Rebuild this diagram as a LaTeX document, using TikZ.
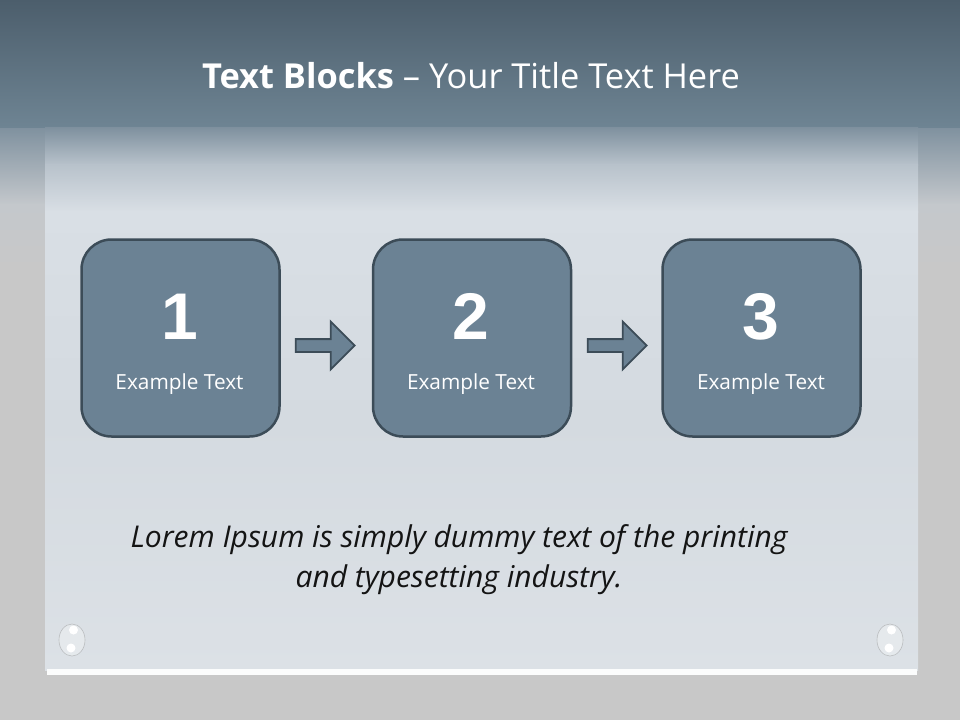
\documentclass[tikz,border=0pt]{standalone}
\usepackage{fontspec}
\setmainfont{Open Sans}
\newfontfamily\numfont{Liberation Sans}
\usetikzlibrary{shapes.arrows}
\definecolor{bggray}{HTML}{C8C8C8}
\definecolor{bandtop}{HTML}{4C5E6C}
\definecolor{bandbot}{HTML}{6E8493}
\definecolor{boxfill}{HTML}{6B8294}
\definecolor{boxline}{HTML}{3C4C58}
\definecolor{lorem}{HTML}{141414}
\definecolor{s0}{HTML}{7E909E}
\definecolor{s1}{HTML}{C4C8CC}
\definecolor{p0}{HTML}{7E909E}
\definecolor{p1}{HTML}{B8C2CB}
\definecolor{p2}{HTML}{D9DFE5}
\definecolor{p3}{HTML}{D4DAE0}
\definecolor{p4}{HTML}{DCE1E6}
\tikzset{
  stepbox/.style={draw=boxline, fill=boxfill, line width=2.5pt, rounded corners=30pt,
    minimum width=198pt, minimum height=197pt, inner sep=0pt},
  numtext/.style={text=white, font=\numfont\bfseries\fontsize{66}{70}\selectfont, anchor=base, inner sep=0pt},
  labtext/.style={text=white, font=\fontsize{20.8}{25}\selectfont, anchor=base, inner sep=0pt},
  flowarrow/.style={single arrow, draw=boxline, fill=boxfill, line width=1.8pt,
    minimum height=59pt, inner xsep=0pt, inner ysep=5.5pt, single arrow head extend=17.5pt,
    single arrow tip angle=90},
  lorem/.style={text=lorem, font=\itshape\fontsize{30}{36}\selectfont, anchor=base, inner sep=0pt},
  drop/.style={fill=white, fill opacity=0.3, draw=gray, draw opacity=0.4, line width=0.6pt},
}
\begin{document}
\begin{tikzpicture}[x=1pt,y=-1pt]
\useasboundingbox (0,0) rectangle (960,720);
% background
\fill[bggray] (0,0) rectangle (960,720);
% transition below band (full width)
\shade[top color=s0, bottom color=s1] (0,126) rectangle (960,205);
\shade[top color=s1, bottom color=bggray] (0,204.5) rectangle (960,270);
% top band
\shade[top color=bandtop, bottom color=bandbot] (0,0) rectangle (960,127);
% plate
\shade[top color=p0, bottom color=p1] (45,127) rectangle (918,165);
\shade[top color=p1, bottom color=p2] (45,164.5) rectangle (918,212);
\shade[top color=p2, bottom color=p3] (45,211.5) rectangle (918,420);
\shade[top color=p3, bottom color=p4] (45,419.5) rectangle (918,670);
\fill[white!90!p4] (47,669) rectangle (917,675);
% drops
\foreach \n/\x in {dl/72, dr/890}{
  \fill[drop] (\x,640) ellipse (13pt and 16pt);
  \fill[white] (\x+1.5,630) circle (4.5pt);
  \fill[white] (\x-1,648) circle (4.5pt);
}
% title
\node[text=white, anchor=base, inner sep=0pt, font=\fontsize{34.4}{40}\selectfont] (title) at (471,88)
  {\textbf{Text Blocks} – Your Title Text Here};
% boxes
\node[stepbox] (b1) at (180.5,338) {};
\node[stepbox] (b2) at (472,338) {};
\node[stepbox] (b3) at (761.5,338) {};
\node[numtext] (n1) at (180,339) {1};
\node[numtext] (n2) at (471,339) {2};
\node[numtext] (n3) at (761,339) {3};
\node[labtext] (l1) at (179.5,389) {Example Text};
\node[labtext] (l2) at (471,389) {Example Text};
\node[labtext] (l3) at (761,389) {Example Text};
% arrows
\node[flowarrow] (a1) at (322,345.5) {};
\node[flowarrow] (a2) at (614,345.5) {};
% lorem
\node[lorem] (lo1) at (459,547) {Lorem Ipsum is simply dummy text of the printing};
\node[lorem] (lo2) at (459,587) {and typesetting industry.};
\end{tikzpicture}
\end{document}
